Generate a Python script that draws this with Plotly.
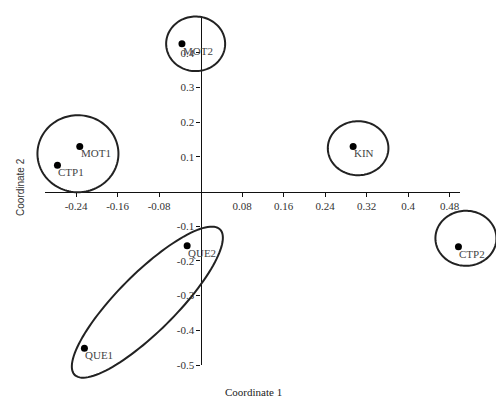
import numpy as np
import plotly.graph_objects as go

# ---- data ----
labels = ["MOT2", "MOT1", "CTP1", "KIN", "QUE2", "QUE1", "CTP2"]
coord1 = [-0.036, -0.233, -0.276, 0.294, -0.026, -0.224, 0.497]
coord2 = [0.426, 0.130, 0.076, 0.130, -0.156, -0.452, -0.159]

xtick_vals = [-0.24, -0.16, -0.08, 0.08, 0.16, 0.24, 0.32, 0.4, 0.48]
xtick_text = ["-0.24", "-0.16", "-0.08", "0.08", "0.16", "0.24", "0.32", "0.4", "0.48"]
ytick_vals = [0.4, 0.3, 0.2, 0.1, -0.1, -0.2, -0.3, -0.4, -0.5]
ytick_text = ["0.4", "0.3", "0.2", "0.1", "-0.1", "-0.2", "-0.3", "-0.4", "-0.5"]

# group ellipses: centre (data), semi-axes in screen px, rotation in screen degrees
groups_cx = [-0.0096, -0.2365, 0.3036, 0.5114, -0.1027]
groups_cy = [0.4256, 0.1089, 0.1248, -0.1349, -0.3189]
groups_ax = [29.5, 40.5, 30.3, 30.5, 102.8]
groups_bx = [27.3, 38.5, 27.0, 27.5, 29.0]
groups_ang = [0, 0, 0, 0, 45]

XR = [-0.3, 0.5]
YR = [-0.5, 0.5]
OFF = 8  # default page body margin
W, H = 504, 408
pw, ph = 415, 347
L, T = 45 - OFF, 18 - OFF
R = W - L - pw
B = H - T - ph

fig = go.Figure()
fig.add_trace(go.Scatter(
    x=coord1, y=coord2, mode="markers",
    marker=dict(color="black", size=7),
    cliponaxis=False, showlegend=False, hoverinfo="skip"))

annotations = []
for lab, x, y in zip(labels, coord1, coord2):
    annotations.append(dict(
        text=lab, x=x, y=y, xref="x", yref="y", showarrow=False,
        xanchor="left", yanchor="top", xshift=-1, yshift=1,
        font=dict(family="Liberation Serif", size=11, color="#444")))

shapes = []
for cx, cy, a, b, ang in zip(groups_cx, groups_cy, groups_ax, groups_bx, groups_ang):
    px = (cx - XR[0]) / (XR[1] - XR[0])
    py = (cy - YR[0]) / (YR[1] - YR[0])
    t = np.linspace(0, 2 * np.pi, 120)
    th = np.radians(ang)
    ex = a * np.cos(t) * np.cos(th) - b * np.sin(t) * np.sin(th)
    ey = a * np.cos(t) * np.sin(th) + b * np.sin(t) * np.cos(th)
    xs = px + ex / pw
    ys = py + ey / ph
    path = "M " + " L ".join(f"{x:.5f},{y:.5f}" for x, y in zip(xs, ys)) + " Z"
    shapes.append(dict(type="path", xref="paper", yref="paper", path=path,
                       line=dict(color="#222", width=2)))

annotations += [
    dict(text="Coordinate 1", xref="paper", yref="paper",
         x=(253 - OFF - L) / pw, y=(H - B - (392 - OFF)) / ph, showarrow=False,
         xanchor="center", yanchor="middle",
         font=dict(family="Liberation Serif", size=11, color="#222")),
    dict(text="Coordinate 2", xref="paper", yref="paper",
         x=(20 - OFF - L) / pw, y=(H - B - (187 - OFF)) / ph, showarrow=False,
         xanchor="center", yanchor="middle", textangle=-90,
         font=dict(family="Liberation Sans", size=10, color="#333")),
]

fig.update_layout(
    width=W, height=H,
    margin=dict(l=L, r=R, t=T, b=B, autoexpand=False),
    paper_bgcolor="white", plot_bgcolor="white",
    shapes=shapes,
    annotations=annotations,
    xaxis=dict(range=XR, anchor="free", position=(0 - YR[0]) / (YR[1] - YR[0]),
               automargin=False,
               showline=True, linecolor="#111", linewidth=1.3,
               showgrid=False, zeroline=False,
               tickmode="array", tickvals=xtick_vals, ticktext=xtick_text,
               ticks="outside", ticklen=4, tickcolor="#111",
               tickfont=dict(family="Liberation Serif", size=11, color="#333")),
    yaxis=dict(range=YR, anchor="free", position=(0 - XR[0]) / (XR[1] - XR[0]),
               automargin=False,
               showline=True, linecolor="#111", linewidth=1.3,
               showgrid=False, zeroline=False,
               tickmode="array", tickvals=ytick_vals, ticktext=ytick_text,
               ticks="outside", ticklen=4, tickcolor="#111",
               tickfont=dict(family="Liberation Serif", size=11, color="#333")),
)

fig.write_html("out.html")
